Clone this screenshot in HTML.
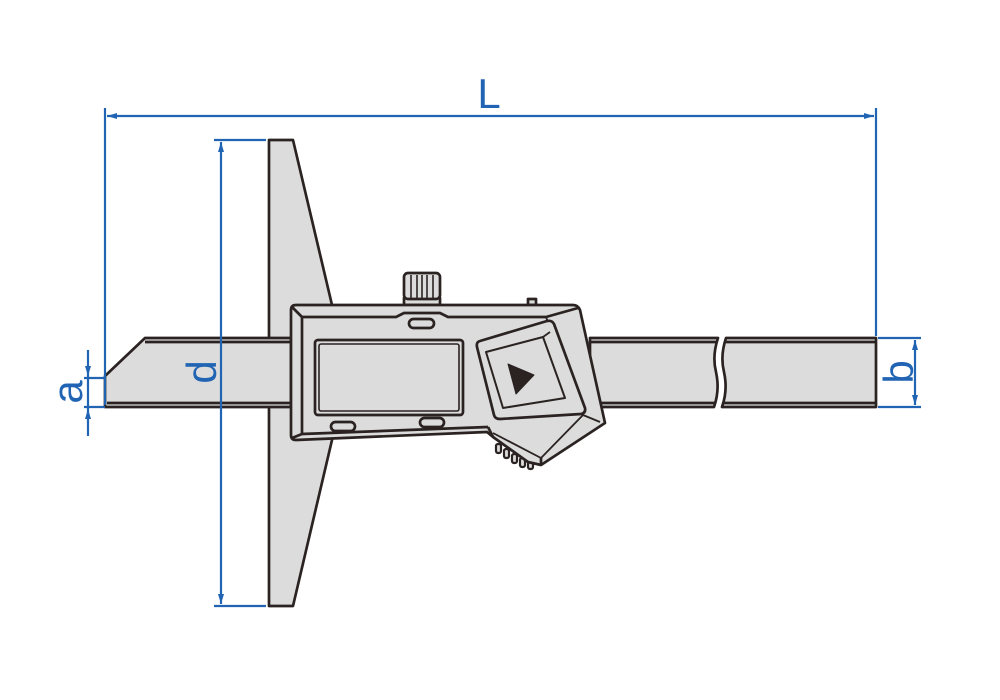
<!DOCTYPE html>
<html><head><meta charset="utf-8"><style>html,body{margin:0;padding:0;background:#fff}svg{display:block}</style></head>
<body>
<svg width="1000" height="700" viewBox="0 0 1000 700" xmlns="http://www.w3.org/2000/svg">
<g stroke="#2a2322" stroke-width="2.7" fill="#dcdcdc" stroke-linejoin="round">
  <polygon points="269,140 293,140 332,305 332,440 293,606 269,606"/>
  <polygon points="145,338 291,338 291,407 105,407 105,376"/>
  <line x1="145" y1="342" x2="291" y2="342"/>
  <line x1="107" y1="403" x2="291" y2="403"/>
  <path d="M590,338 L718,338 Q712,356 716,372 Q720,390 714,407 L590,407 Z"/>
  <line x1="590" y1="342" x2="717" y2="342"/>
  <line x1="590" y1="403" x2="715" y2="403"/>
  <path d="M726,338 L876,338 L876,407 L722,407 Q728,390 724,372 Q720,356 726,338 Z"/>
  <line x1="725" y1="342" x2="876" y2="342"/>
  <line x1="723" y1="403" x2="876" y2="403"/>
  <rect x="404" y="298" width="36" height="7" fill="#dcdcdc"/>
  <rect x="404" y="273" width="36" height="26" rx="4"/>
  <g stroke-width="1.6"><line x1="411" y1="275" x2="411" y2="298"/><line x1="417" y1="275" x2="417" y2="298"/><line x1="422" y1="275" x2="422" y2="298"/><line x1="427" y1="275" x2="427" y2="298"/><line x1="433" y1="275" x2="433" y2="298"/></g>
  <rect x="528" y="299" width="8" height="6"/>
  <g stroke-width="2.2"><rect x="496" y="444" width="5" height="9" rx="2"/><rect x="504" y="449" width="5" height="9" rx="2"/><rect x="512" y="454" width="5" height="9" rx="2"/><rect x="520" y="458" width="5" height="9" rx="2"/><rect x="528" y="460" width="5" height="9" rx="2"/></g>
  <path d="M296,305 L573,305 Q578,305 580,310 L605,423 L541,465 L528,462 L493,437 L487,432 L296,440 Q291,440 291,435 L291,310 Q291,305 296,305 Z"/>
  <path d="M302,317 L396,317 L404,313 L440,313 L448,317 L546,317" fill="none"/>
  <line x1="302" y1="317" x2="302" y2="435" fill="none"/>
  <line x1="292" y1="307" x2="302" y2="317"/>
  <line x1="292" y1="438" x2="302" y2="434"/>
  <line x1="302" y1="434" x2="488" y2="427"/>
  <line x1="488" y1="427" x2="493" y2="437"/>
  <path d="M546,317 L578,308" fill="none"/>
  <path d="M546,317 L583,415 L600,422" fill="none" stroke-width="1.8"/>
  <path d="M493,433 L541,458 L583,415" fill="none" stroke-width="1.8"/>
  <line x1="541" y1="458" x2="541" y2="465"/>
  <rect x="315" y="340" width="148" height="75" rx="3"/>
  <rect x="319" y="344" width="140" height="67" rx="2" fill="none" stroke-width="1.6"/>
  <rect x="409" y="319" width="25" height="9" rx="4.5"/>
  <rect x="331" y="422" width="24" height="9" rx="4.5"/>
  <rect x="420" y="418" width="24" height="9" rx="4.5"/>
  <path d="M480,341 L547,321 Q552,320 554,324 L585,408 Q586,413 581,414 L500,419 Q495,419 494,415 L477,347 Q476,342 480,341 Z"/>
  <polygon points="486,352 543,337 565,398 503,408" fill="none" stroke-width="2"/>
  <line x1="543" y1="337" x2="550" y2="332" stroke-width="1.8"/>
  <polygon points="508,364 534,375 516,394" fill="#2a2322" stroke-width="1"/>
</g>
<g stroke="#2164b4" stroke-width="2.2" fill="none">
  <line x1="105" y1="108" x2="105" y2="405"/>
  <line x1="876" y1="108" x2="876" y2="336"/>
  <line x1="107" y1="116" x2="874" y2="116"/>
  <line x1="214" y1="140" x2="266" y2="140"/>
  <line x1="214" y1="606" x2="266" y2="606"/>
  <line x1="221" y1="142" x2="221" y2="604"/>
  <line x1="84" y1="378" x2="105" y2="378"/>
  <line x1="84" y1="407" x2="105" y2="407"/>
  <line x1="88" y1="350" x2="88" y2="436"/>
  <line x1="878" y1="338" x2="921" y2="338"/>
  <line x1="878" y1="407" x2="921" y2="407"/>
  <line x1="915" y1="340" x2="915" y2="405"/>
</g>
<g fill="#2164b4">
  <polygon points="107,116 117,113 117,119"/>
  <polygon points="874,116 864,113 864,119"/>
  <polygon points="221,142 218,152 224,152"/>
  <polygon points="221,604 218,594 224,594"/>
  <polygon points="88,376 85,366 91,366"/>
  <polygon points="88,409 85,419 91,419"/>
  <polygon points="915,340 912,350 918,350"/>
  <polygon points="915,405 912,395 918,395"/>
</g>
<g fill="#2164b4" font-family="Liberation Sans, sans-serif" font-size="42">
  <text x="489" y="108" text-anchor="middle">L</text>
  <text transform="translate(216,372) rotate(-90)" text-anchor="middle">d</text>
  <text transform="translate(82,392) rotate(-90)" text-anchor="middle">a</text>
  <text transform="translate(913,372) rotate(-90)" text-anchor="middle">b</text>
</g>
</svg>
</body></html>
